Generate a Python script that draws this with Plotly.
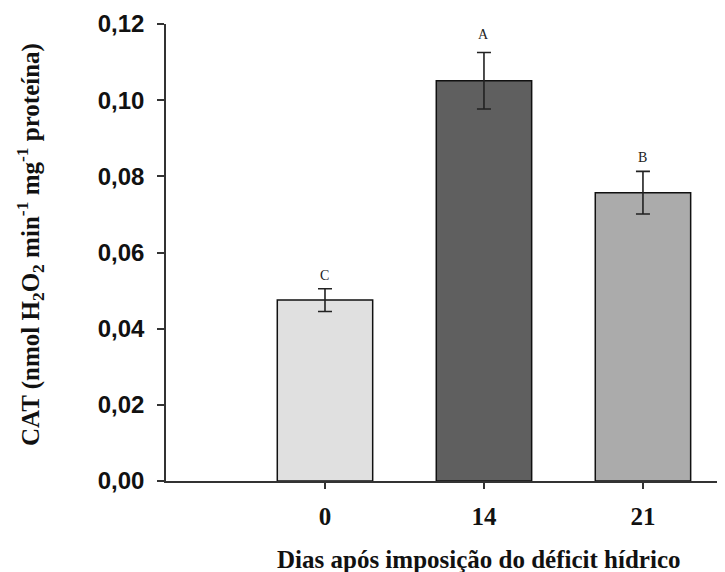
import plotly.graph_objects as go

categories = ["0", "14", "21"]
cat_values = [0.0475, 0.1051, 0.0757]
cat_errors = [0.0030, 0.0074, 0.0056]
letters = ["C", "A", "B"]
bar_colors = ["#e0e0e0", "#5f5f5f", "#ababab"]
y_ticks = [0.00, 0.02, 0.04, 0.06, 0.08, 0.10, 0.12]

# page body has an 8px margin, so the figure is sized to fit the window
W, H = 717, 564
ml, mr, mt, mb = 158, 0, 16, 91
pw, ph = W - ml - mr, H - mt - mb
base = H - mb

fig = go.Figure()
fig.add_trace(go.Bar(
    x=categories, y=cat_values, width=0.6,
    marker=dict(color=bar_colors, line=dict(color="#111111", width=1.5)),
    error_y=dict(type="data", array=cat_errors, visible=True,
                 color="#222222", thickness=1.6, width=7),
    showlegend=False,
))

letter_shift = {"C": 4, "A": 9, "B": 4}
for i, (v, e, L) in enumerate(zip(cat_values, cat_errors, letters)):
    fig.add_annotation(x=i, y=v + e, text=L, showarrow=False,
                       xref="x", yref="y", yanchor="bottom",
                       yshift=letter_shift[L],
                       font=dict(family="Liberation Serif", size=14, color="#222222"))

# y-axis title
fig.add_annotation(
    text="<b>CAT (nmol H<sub>2</sub>O<sub>2</sub> min<sup>-1</sup> mg<sup>-1</sup> proteína)</b>",
    textangle=-90, xref="paper", yref="paper",
    x=(22 - ml) / pw, y=(base - 237) / ph,
    xanchor="center", yanchor="middle", showarrow=False,
    font=dict(family="Liberation Serif", size=25, color="#111111"))

# x-axis title
fig.add_annotation(
    text="<b>Dias após imposição do déficit hídrico</b>",
    xref="paper", yref="paper",
    x=(471 - ml) / pw, y=(base - 551) / ph,
    xanchor="center", yanchor="middle", showarrow=False,
    font=dict(family="Liberation Serif", size=25, color="#111111"))

fig.update_layout(
    width=W, height=H,
    margin=dict(l=ml, r=mr, t=mt, b=mb, pad=0),
    paper_bgcolor="white", plot_bgcolor="white",
    separators=",.",
    xaxis=dict(type="category", range=[-1, 2.516],
               showline=True, linecolor="#333333", linewidth=1.5,
               ticks="outside", ticklen=6, tickcolor="#333333", tickwidth=1.5,
               showgrid=False, zeroline=False, ticklabelstandoff=6,
               tickfont=dict(family="Liberation Serif", size=25, color="#111111", weight="bold")),
    yaxis=dict(range=[0, 0.12], tickvals=y_ticks, tickformat=".2f",
               showline=True, linecolor="#333333", linewidth=1.5,
               ticks="outside", ticklen=7, tickcolor="#333333", tickwidth=1.5,
               showgrid=False, zeroline=False, ticklabelstandoff=8,
               tickfont=dict(family="Liberation Sans", size=24, color="#111111", weight="bold")),
)

fig.write_html("out.html")
